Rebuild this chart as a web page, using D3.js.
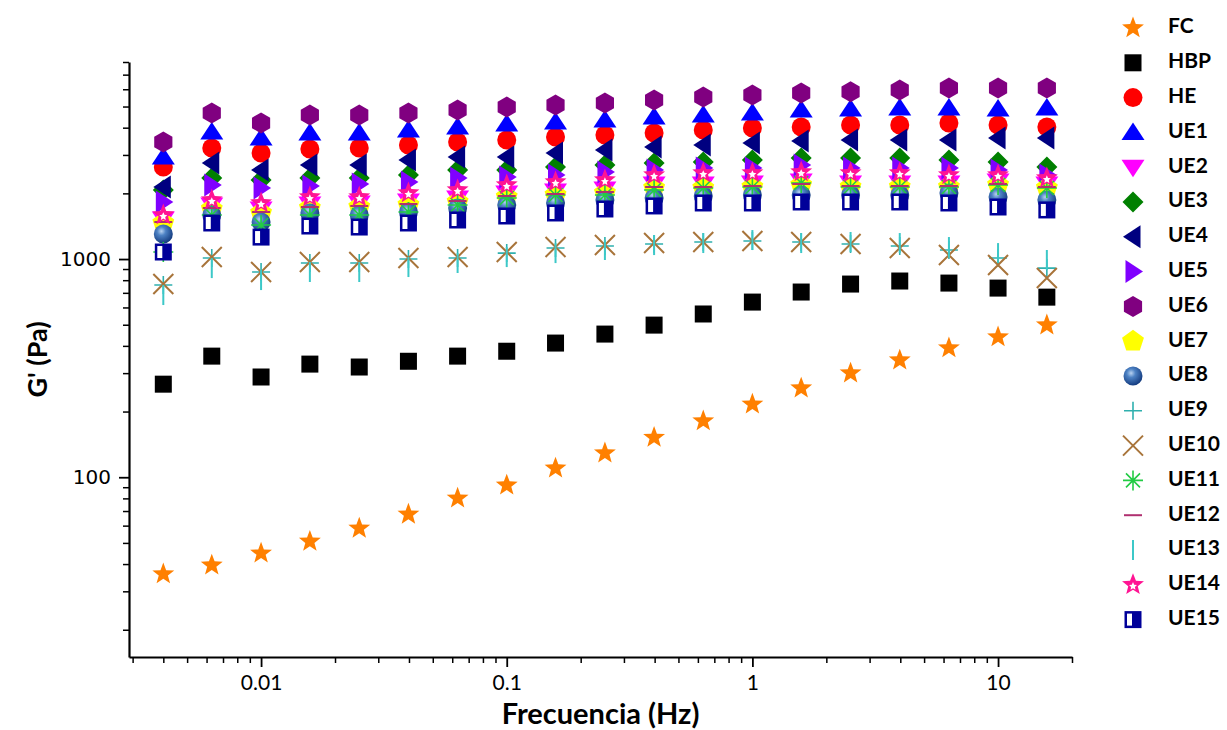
<html>
<script src='https://d3js.org/d3.v7.min.js'></script>
<style>
  body { margin: 0; background: #fff; }
  text { fill: #000; }
</style>
<body onload='init()'>
<svg width=1227 height=730></svg>
<script>
// frequency points (Hz)
var freq = [0.004, 0.0063, 0.01, 0.0158, 0.0251, 0.0398, 0.0631, 0.1, 0.158, 0.251,
            0.398, 0.631, 1, 1.58, 2.51, 3.98, 6.31, 10, 15.8];

// G' (Pa) per sample
var FC   = [36, 39.5, 44.8, 50.8, 58.3, 67.6, 80.1, 91.9, 110, 129, 152, 181, 216, 256, 300, 344, 391, 439, 498];
var HBP  = [267, 359, 288, 330, 320, 340, 359, 378, 412, 453, 498, 560, 635, 706, 768, 793, 776, 736, 669];
var HE   = [2642, 3229, 3063, 3195, 3229, 3333, 3441, 3515, 3627, 3705, 3784, 3905, 3989, 4031, 4118, 4118, 4206, 4118, 4031];
var UE1  = [2938, 3824, 3589, 3784, 3784, 3905, 4031, 4162, 4250, 4341, 4481, 4577, 4675, 4825, 4876, 4928, 4928, 4876, 4928];
var UE2  = [1526, 1769, 1696, 1788, 1807, 1845, 1905, 2008, 2051, 2095, 2208, 2208, 2231, 2279, 2231, 2231, 2231, 2279, 2208];
var UE3  = [2073, 2352, 2303, 2352, 2352, 2428, 2560, 2560, 2642, 2699, 2756, 2786, 2845, 2906, 2906, 2906, 2845, 2786, 2642];
var UE4  = [2139, 2756, 2560, 2699, 2699, 2845, 2938, 2938, 3063, 3162, 3264, 3333, 3405, 3478, 3515, 3515, 3515, 3589, 3589];
var UE5  = [1826, 2185, 2117, 2162, 2208, 2255, 2352, 2377, 2428, 2506, 2560, 2615, 2615, 2699, 2615, 2615, 2615, 2560, 2428];
var UE6  = [3441, 4675, 4206, 4577, 4577, 4675, 4825, 4981, 5087, 5194, 5362, 5535, 5654, 5775, 5837, 5961, 6087, 6087, 6087];
var UE7  = [1463, 1696, 1626, 1714, 1732, 1769, 1826, 1924, 1966, 2008, 2117, 2117, 2139, 2185, 2139, 2139, 2139, 2185, 2117];
var UE8  = [1302, 1592, 1478, 1626, 1592, 1643, 1714, 1769, 1807, 1865, 1905, 1945, 1966, 1966, 1966, 1966, 2008, 1924, 1865];
var UE9  = [760, 1011, 872, 959, 959, 1000, 1011, 1065, 1123, 1147, 1172, 1197, 1209, 1197, 1172, 1147, 1100, 1011, 909];
var UE10 = [768, 1021, 872, 969, 969, 1011, 1021, 1077, 1135, 1159, 1184, 1197, 1209, 1197, 1172, 1123, 1043, 939, 818];
var UE11 = [1077, 1592, 1432, 1592, 1592, 1643, 1769, 1905, 1966, 1966, 2073, 2117, 2139, 2231, 2139, 2139, 2139, 2185, 2117];
var UE12 = [1478, 1714, 1643, 1732, 1751, 1788, 1845, 1945, 1987, 2029, 2139, 2139, 2162, 2208, 2162, 2162, 2162, 2208, 2139];
var UE13 = [684, 909, 801, 872, 872, 919, 959, 1021, 1065, 1100, 1159, 1184, 1222, 1184, 1197, 1184, 1135, 1065, 990];
var UE14 = [1592, 1865, 1807, 1924, 1924, 2008, 2073, 2185, 2255, 2303, 2428, 2480, 2480, 2506, 2480, 2480, 2428, 2428, 2352];
var UE15 = [1077, 1463, 1261, 1417, 1402, 1463, 1510, 1575, 1626, 1696, 1751, 1807, 1807, 1826, 1826, 1826, 1807, 1732, 1679];

var names = ['FC', 'HBP', 'HE', 'UE1', 'UE2', 'UE3', 'UE4', 'UE5', 'UE6', 'UE7', 'UE8',
             'UE9', 'UE10', 'UE11', 'UE12', 'UE13', 'UE14', 'UE15'];
var seriesValues = [FC, HBP, HE, UE1, UE2, UE3, UE4, UE5, UE6, UE7, UE8,
                    UE9, UE10, UE11, UE12, UE13, UE14, UE15];

var xMajor = [0.01, 0.1, 1, 10];
var yMajor = [100, 1000];

function poly(pts) { return 'M' + pts.map(function(p) { return p.join(','); }).join('L') + 'Z'; }
function ngon(n, r, rot) {
  var pts = [];
  for (var i = 0; i < n; i++) {
    var a = rot + i * 2 * Math.PI / n;
    pts.push([r * Math.sin(a), -r * Math.cos(a)]);
  }
  return poly(pts);
}
function star(ro, ri) {
  var pts = [];
  for (var i = 0; i < 10; i++) {
    var r = i % 2 ? ri : ro, a = i * Math.PI / 5;
    pts.push([r * Math.sin(a), -r * Math.cos(a)]);
  }
  return poly(pts);
}

// draws one marker of series i into g at (0,0)
function marker(g, i) {
  switch (names[i]) {
    case 'FC': g.append('path').attr('d', star(11.5, 4.8)).attr('fill', '#ff8000'); break;
    case 'HBP': g.append('rect').attr('x', -8.5).attr('y', -8.5).attr('width', 17).attr('height', 17).attr('fill', '#000'); break;
    case 'HE': g.append('circle').attr('r', 9.5).attr('fill', '#ff0000'); break;
    case 'UE1': g.append('path').attr('d', poly([[0, -10], [11.5, 7.5], [-11.5, 7.5]])).attr('fill', '#0000ff'); break;
    case 'UE2': g.append('path').attr('d', poly([[0, 10], [11.5, -7.5], [-11.5, -7.5]])).attr('fill', '#ff00ff'); break;
    case 'UE3': g.append('path').attr('d', poly([[0, -10.5], [10.5, 0], [0, 10.5], [-10.5, 0]])).attr('fill', '#008000'); break;
    case 'UE4': g.append('path').attr('d', poly([[-10, 0], [7.5, -11.5], [7.5, 11.5]])).attr('fill', '#000080'); break;
    case 'UE5': g.append('path').attr('d', poly([[10, 0], [-7.5, -11.5], [-7.5, 11.5]])).attr('fill', '#8000ff'); break;
    case 'UE6': g.append('path').attr('d', ngon(6, 10.5, 0)).attr('fill', '#800080'); break;
    case 'UE7': g.append('path').attr('d', ngon(5, 11.5, 0)).attr('fill', '#ffff00'); break;
    case 'UE8': g.append('circle').attr('r', 9.5).attr('fill', 'url(#ball)'); break;
    case 'UE9':
      g.append('path').attr('d', 'M-9,0H9M0,-9V9').attr('stroke', '#2fb0ae').attr('stroke-width', 1.6); break;
    case 'UE10':
      g.append('path').attr('d', 'M-10,-10L10,10M10,-10L-10,10').attr('stroke', '#a8743a').attr('stroke-width', 2); break;
    case 'UE11':
      g.append('path').attr('d', 'M-10,0H10M0,-10V10M-7,-7L7,7M7,-7L-7,7').attr('stroke', '#22cc44').attr('stroke-width', 1.6); break;
    case 'UE12':
      g.append('path').attr('d', 'M-9,0H9').attr('stroke', '#b03070').attr('stroke-width', 2); break;
    case 'UE13':
      g.append('path').attr('d', 'M0,-10V10').attr('stroke', '#3cc8c8').attr('stroke-width', 2); break;
    case 'UE14':
      g.append('path').attr('d', star(11.5, 5)).attr('fill', '#ff1493');
      g.append('path').attr('d', star(4.2, 2)).attr('transform', 'translate(0,1.5)').attr('fill', '#fff'); break;
    case 'UE15':
      g.append('rect').attr('x', -8.5).attr('y', -8.5).attr('width', 17).attr('height', 17).attr('fill', '#000099');
      g.append('rect').attr('x', -6).attr('y', -6).attr('width', 5).attr('height', 12).attr('fill', '#fff'); break;
  }
}

function init() {
  var svg = d3.select('svg');
  var margin = {left: 129, right: 155, top: 62, bottom: 73};
  var width = 1227 - margin.left - margin.right,
      height = 730 - margin.top - margin.bottom;

  var x = d3.scaleLog().domain([0.0029, 20]).range([0, width]);
  var y = d3.scaleLog().domain([15, 8000]).range([height, 0]);

  var defs = svg.append('defs');
  var grad = defs.append('radialGradient').attr('id', 'ball').attr('cx', '40%').attr('cy', '35%').attr('r', '65%');
  grad.append('stop').attr('offset', '0%').attr('stop-color', '#b8d2f0');
  grad.append('stop').attr('offset', '35%').attr('stop-color', '#4d82c4');
  grad.append('stop').attr('offset', '100%').attr('stop-color', '#143c80');

  var g = svg.append('g').attr('transform', 'translate(' + margin.left + ',' + margin.top + ')');

  // minor ticks
  var xMinor = [], yMinor = [];
  [0.001, 0.01, 0.1, 1, 10].forEach(function(d) {
    for (var k = 2; k <= 9; k++) { var v = d * k; if (v >= 0.0029 && v <= 20 && xMajor.indexOf(v) < 0) xMinor.push(v); }
  });
  [10, 100, 1000].forEach(function(d) {
    for (var k = 2; k <= 9; k++) { var v = d * k; if (v >= 15 && v <= 8000) yMinor.push(v); }
  });

  g.append('g').attr('transform', 'translate(0,' + height + ')')
    .call(d3.axisBottom(x).tickValues(xMinor).tickSize(6).tickSizeOuter(0).tickFormat(''))
    .call(function(a) { a.select('.domain').remove(); a.selectAll('line').attr('stroke-width', 1.5); });
  g.append('g').attr('transform', 'translate(0,' + height + ')')
    .call(d3.axisBottom(x).tickValues(xMajor).tickSize(10).tickSizeOuter(0).tickPadding(8)
      .tickFormat(function(d) { return d < 1 ? String(d) : d3.format('d')(d); }))
    .call(function(a) {
      a.select('.domain').attr('stroke-width', 2.2);
      a.selectAll('line').attr('stroke-width', 1.8);
      a.selectAll('text').attr('font-family', 'Lato, sans-serif').attr('font-size', 21).attr('fill', '#000');
    });

  g.append('g')
    .call(d3.axisLeft(y).tickValues(yMinor).tickSize(6).tickSizeOuter(0).tickFormat(''))
    .call(function(a) { a.select('.domain').remove(); a.selectAll('line').attr('stroke-width', 1.5); });
  g.append('g')
    .call(d3.axisLeft(y).tickValues(yMajor).tickSize(10).tickSizeOuter(0).tickPadding(8).tickFormat(d3.format('d')))
    .call(function(a) {
      a.select('.domain').attr('stroke-width', 2.2);
      a.selectAll('line').attr('stroke-width', 1.8);
      a.selectAll('text').attr('font-family', '"DejaVu Sans", sans-serif').attr('font-size', 20).attr('fill', '#000');
    });

  // points, drawn in series order so later series sit on top
  seriesValues.forEach(function(vals, i) {
    g.append('g').selectAll('g')
      .data(vals)
      .enter()
      .append('g')
      .attr('transform', function(d, j) { return 'translate(' + x(freq[j]) + ',' + y(d) + ')'; })
      .each(function() { marker(d3.select(this), i); });
  });

  // axis titles
  svg.append('text')
    .attr('transform', 'translate(40,' + (margin.top + height / 2) + ') rotate(-90)')
    .attr('text-anchor', 'middle').attr('dominant-baseline', 'middle')
    .attr('font-family', 'Lato, sans-serif').attr('font-weight', 'bold').attr('font-size', 27)
    .text("G' (Pa)");
  svg.append('text')
    .attr('x', margin.left + width / 2).attr('y', 717)
    .attr('text-anchor', 'middle').attr('dominant-baseline', 'middle')
    .attr('font-family', 'Lato, sans-serif').attr('font-weight', 'bold').attr('font-size', 29)
    .text('Frecuencia (Hz)');

  // legend
  var legend = svg.append('g').attr('transform', 'translate(1133,28)');
  var row = legend.selectAll('g').data(names).enter().append('g')
    .attr('transform', function(d, i) { return 'translate(0,' + (i * 34.8) + ')'; });
  row.each(function(d, i) { marker(d3.select(this), i); });
  row.append('text')
    .attr('x', 35).attr('dominant-baseline', 'middle')
    .attr('font-family', 'Lato, sans-serif').attr('font-weight', 'bold').attr('font-size', 21)
    .text(function(d) { return d; });
}
</script>
</body>
</html>
